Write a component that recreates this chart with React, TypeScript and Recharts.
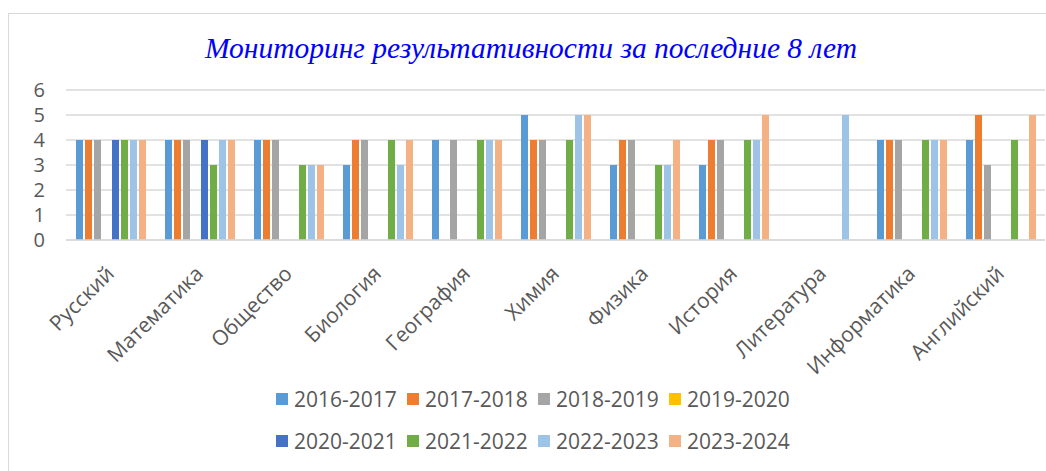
import { BarChart, Bar, XAxis, YAxis, CartesianGrid, Legend } from "recharts";

const subjects = [
  "Русский",
  "Математика",
  "Общество",
  "Биология",
  "География",
  "Химия",
  "Физика",
  "История",
  "Литература",
  "Информатика",
  "Английский",
];

const years = [
  "2016-2017",
  "2017-2018",
  "2018-2019",
  "2019-2020",
  "2020-2021",
  "2021-2022",
  "2022-2023",
  "2023-2024",
];

const COLORS = ["#5B9BD5", "#ED7D31", "#A5A5A5", "#FFC000", "#4472C4", "#70AD47", "#9DC3E6", "#F4B183"];

// one array per school year, in subject order (null = no result)
const y2016 = [4, 4, 4, 3, 4, 5, 3, 3, null, 4, 4];
const y2017 = [4, 4, 4, 4, null, 4, 4, 4, null, 4, 5];
const y2018 = [4, 4, 4, 4, 4, 4, 4, 4, null, 4, 3];
const y2019 = [null, null, null, null, null, null, null, null, null, null, null];
const y2020 = [4, 4, null, null, null, null, null, null, null, null, null];
const y2021 = [4, 3, 3, 4, 4, 4, 3, 4, null, 4, 4];
const y2022 = [4, 4, 3, 3, 4, 5, 3, 4, 5, 4, null];
const y2023 = [4, 4, 3, 4, 4, 5, 4, 5, null, 4, 5];

const series = [y2016, y2017, y2018, y2019, y2020, y2021, y2022, y2023];
const yTicks = [0, 1, 2, 3, 4, 5, 6];

const data = subjects.map((name, i) => {
  const row: Record<string, string | number | null> = { name };
  years.forEach((y, k) => {
    row[y] = series[k][i];
  });
  return row;
});

const CategoryTick = (props: any) => {
  const { x, y, payload } = props;
  return (
    <text
      transform={`translate(${x + 5},${y + 27}) rotate(-45)`}
      textAnchor="end"
      fill="#595959"
      fontSize={21}
      fontFamily="'Open Sans', sans-serif"
    >
      {payload.value}
    </text>
  );
};

const LegendBox = () => {
  const rows = [years.slice(0, 4), years.slice(4)];
  return (
    <div style={{ fontFamily: "'Open Sans', sans-serif", fontSize: 21, color: "#595959" }}>
      {rows.map((row, r) => (
        <div key={r} style={{ display: "flex", height: 42, alignItems: "center" }}>
          {row.map((y) => {
            const idx = years.indexOf(y);
            return (
              <div key={y} style={{ display: "flex", alignItems: "center", width: 131 }}>
                <span
                  style={{ width: 12, height: 12, background: COLORS[idx], marginRight: 6, display: "inline-block" }}
                />
                <span>{y}</span>
              </div>
            );
          })}
        </div>
      ))}
    </div>
  );
};

export default function App() {
  return (
    <div style={{ position: "absolute", left: 0, top: 0, width: 1046, height: 471, overflow: "hidden", background: "#fff" }}>
      <div
        style={{
          position: "absolute",
          left: 8,
          top: 13,
          width: 1100,
          height: 470,
          border: "1px solid #d9d9d9",
        }}
      />
      <div
        style={{
          position: "absolute",
          left: 0,
          top: 32,
          width: 1062,
          textAlign: "center",
          fontFamily: "'Liberation Serif', 'Times New Roman', serif",
          fontStyle: "italic",
          fontSize: 29.5,
          color: "#0000FF",
        }}
      >
        Мониторинг результативности за последние 8 лет
      </div>
      <BarChart
        width={1046}
        height={471}
        data={data}
        margin={{ top: 90, right: 1, bottom: 0, left: 0 }}
        barCategoryGap="9.5%"
        barGap={2}
        style={{ position: "absolute", left: 0, top: 0 }}
      >
        <CartesianGrid vertical={false} stroke="#d9d9d9" strokeWidth={1.5} />
        <XAxis
          dataKey="name"
          interval={0}
          tick={<CategoryTick />}
          tickLine={false}
          axisLine={{ stroke: "#d9d9d9", strokeWidth: 1.5 }}
          height={231}
        />
        <YAxis
          width={66}
          domain={[0, 6]}
          ticks={yTicks}
          interval={0}
          axisLine={false}
          tickLine={false}
          tick={{ fill: "#595959", fontSize: 20, fontFamily: "'Open Sans', sans-serif", dx: -13 }}
        />
        <Legend
          layout="horizontal"
          verticalAlign="middle"
          align="center"
          content={<LegendBox />}
          wrapperStyle={{ position: "absolute", left: 276, top: 378, width: 580 }}
        />
        {years.map((y, k) => (
          <Bar key={y} dataKey={y} fill={COLORS[k]} barSize={7} isAnimationActive={false} />
        ))}
      </BarChart>
    </div>
  );
}
